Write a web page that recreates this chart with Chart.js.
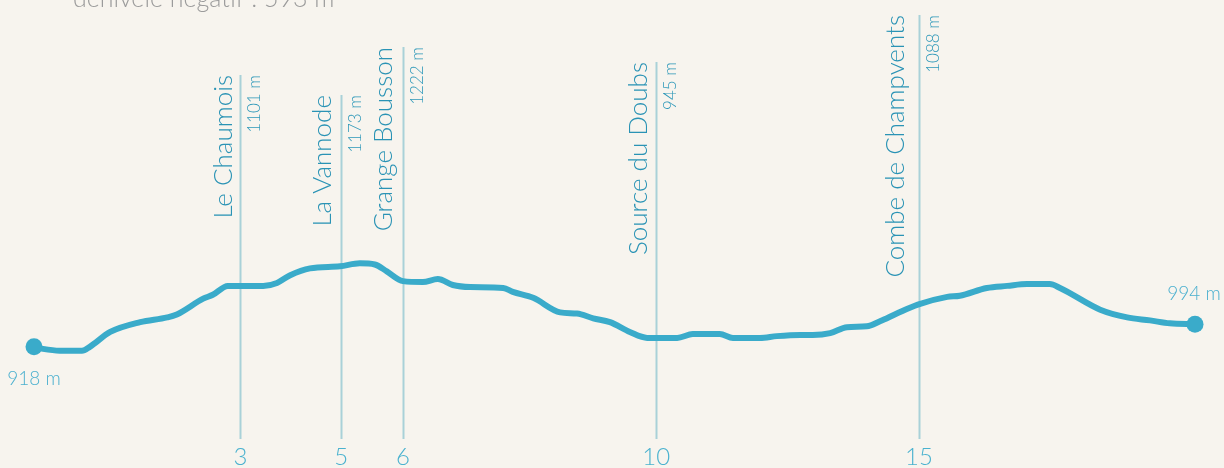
<!DOCTYPE html>
<html>
<head>
<meta charset="utf-8">
<script src="https://cdn.jsdelivr.net/npm/chart.js@4/dist/chart.umd.min.js"></script>
<style>
    html, body { margin: 0; padding: 0; background: #f7f4ee; }
    #cadre { width: 1224px; height: 468px; position: relative; }
</style>
</head>
<body>
<div id="cadre"><canvas id="profil"></canvas></div>
<script>
// Profil altimétrique : distance (km) / altitude (m)
const distancesKm = [0, 0.15, 0.43, 0.80, 0.93, 1.27, 1.77, 2.22, 2.38, 2.82, 2.98, 3.23, 3.82, 4.05, 4.27,
    4.60, 5.10, 5.43, 5.68, 5.88, 6.15, 6.48, 6.73, 6.98, 7.27, 7.82, 7.98, 8.32, 8.77, 9.05,
    9.32, 9.60, 9.93, 10.22, 10.72, 10.98, 11.43, 11.65, 12.10, 12.38, 12.77, 12.98, 13.27, 13.55, 13.88,
    14.10, 14.38, 14.73, 15.22, 15.43, 15.88, 16.22, 16.55, 16.93, 17.10, 17.77, 18.22, 18.60, 18.93, 19.35];
const altitudes = [918, 911, 905, 905, 918, 968, 1001, 1017, 1027, 1080, 1093, 1123, 1123, 1133, 1159,
    1182, 1189, 1199, 1195, 1172, 1139, 1136, 1146, 1126, 1119, 1116, 1103, 1083, 1034, 1030,
    1014, 1001, 968, 948, 948, 961, 961, 948, 948, 954, 958, 958, 964, 984, 987,
    1004, 1030, 1060, 1086, 1090, 1116, 1123, 1129, 1129, 1116, 1043, 1017, 1007, 997, 994];

// Points de passage
const waypointNames = ['Le Chaumois', 'La Vannode', 'Grange Bousson', 'Source du Doubs', 'Combe de Champvents'];
const waypointKm = [3.44, 5.12, 6.15, 10.37, 14.75];
const waypointAltitudes = [1101, 1173, 1222, 945, 1088];
const tickLabels = ['3', '5', '6', '10', '15'];

const titreDenivele = 'dénivelé négatif : 593 m';

const POLICE = 'Lato, "Open Sans", sans-serif';
const couleurTrace = '#3aabca';
const couleurRepere = '#a9d1d8';
const couleurNom = '#2a93b5';

const pluginDecor = {
    id: 'decor',
    beforeDraw(chart) {
        const ctx = chart.ctx;
        ctx.save();
        ctx.fillStyle = '#f7f4ee';
        ctx.fillRect(0, 0, chart.width, chart.height);
        // titre coupé en haut
        ctx.fillStyle = '#9b9b9b';
        ctx.font = `300 25px ${POLICE}`;
        ctx.textAlign = 'left';
        ctx.textBaseline = 'alphabetic';
        ctx.fillText(titreDenivele, 73, 7);
        ctx.restore();
    },
    beforeDatasetsDraw(chart, args, opts) {
        const ctx = chart.ctx;
        const x = chart.scales.x;
        const bas = chart.chartArea.bottom;
        ctx.save();
        waypointKm.forEach((km, i) => {
            const px = Math.round(x.getPixelForValue(km)) + 0.5;
            const haut = opts.hauts[i];
            ctx.strokeStyle = couleurRepere;
            ctx.lineWidth = 2;
            ctx.beginPath();
            ctx.moveTo(px, haut);
            ctx.lineTo(px, bas);
            ctx.stroke();

            // nom du lieu
            ctx.save();
            ctx.translate(px - opts.ecarts[i], haut);
            ctx.rotate(-Math.PI / 2);
            ctx.fillStyle = couleurNom;
            ctx.font = `300 26px ${POLICE}`;
            ctx.textAlign = 'right';
            ctx.textBaseline = 'alphabetic';
            ctx.fillText(waypointNames[i], 0, 0);
            ctx.restore();

            // altitude
            ctx.save();
            ctx.translate(px + 19, haut);
            ctx.rotate(-Math.PI / 2);
            ctx.fillStyle = '#2e98b9';
            ctx.font = `300 17px ${POLICE}`;
            ctx.textAlign = 'right';
            ctx.textBaseline = 'alphabetic';
            ctx.fillText(`${waypointAltitudes[i]} m`, 0, 0);
            ctx.restore();
        });
        ctx.restore();
    },
    afterDatasetsDraw(chart) {
        const ctx = chart.ctx;
        const x = chart.scales.x;
        const y = chart.scales.y;
        const dernier = altitudes.length - 1;
        ctx.save();
        ctx.fillStyle = '#4bb0cf';
        ctx.font = `300 19px ${POLICE}`;
        ctx.textAlign = 'center';
        ctx.textBaseline = 'alphabetic';
        ctx.fillText(`${altitudes[0]} m`, x.getPixelForValue(distancesKm[0]), y.getPixelForValue(altitudes[0]) + 38);
        ctx.fillText(`${altitudes[dernier]} m`, x.getPixelForValue(distancesKm[dernier]) - 1, y.getPixelForValue(altitudes[dernier]) - 24);
        ctx.restore();
    }
};

const points = distancesKm.map((d, i) => ({ x: d, y: altitudes[i] }));

new Chart(document.getElementById('profil').getContext('2d'), {
    type: 'line',
    data: {
        datasets: [
            {
                data: points,
                borderColor: couleurTrace,
                backgroundColor: couleurTrace,
                borderWidth: 6,
                borderCapStyle: 'round',
                borderJoinStyle: 'round',
                cubicInterpolationMode: 'monotone',
                fill: false,
                clip: false,
                pointRadius: (c) => (c.dataIndex === 0 || c.dataIndex === altitudes.length - 1 ? 8.5 : 0),
                pointHoverRadius: 0,
                pointBorderWidth: 0,
            },
        ],
    },
    options: {
        responsive: true,
        maintainAspectRatio: false,
        animation: false,
        events: [],
        layout: { padding: { left: 34, right: 29, top: 0, bottom: -7 } },
        plugins: {
            legend: { display: false },
            tooltip: { enabled: false },
            decor: {
                hauts: [75, 95, 47, 62, 15],
                ecarts: [9, 11, 12, 10, 16],
            },
        },
        scales: {
            x: {
                type: 'linear',
                min: 0,
                max: 19.35,
                afterBuildTicks: (scale) => {
                    scale.ticks = waypointKm.map((v) => ({ value: v }));
                },
                grid: { display: false, drawTicks: false },
                border: { display: false },
                ticks: {
                    autoSkip: false,
                    maxRotation: 0,
                    padding: 6,
                    color: '#4ab2cf',
                    font: { family: POLICE, size: 24, weight: '300', lineHeight: 1.0 },
                    callback: (v, i) => tickLabels[i],
                },
            },
            y: {
                display: false,
                min: 608,
                max: 2056,
            },
        },
    },
    plugins: [pluginDecor],
});
</script>
</body>
</html>
